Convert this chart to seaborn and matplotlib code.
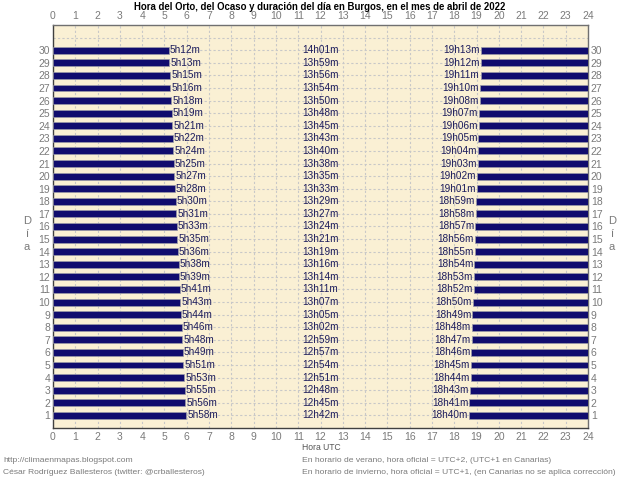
import matplotlib
matplotlib.use("Agg")
import matplotlib.pyplot as plt
import seaborn as sns
import pandas as pd

# day of April 2022, sunrise, day length and sunset (UTC)
days = list(range(1, 31))
sunrise = ["5h58m", "5h56m", "5h55m", "5h53m", "5h51m", "5h49m", "5h48m", "5h46m", "5h44m", "5h43m",
           "5h41m", "5h39m", "5h38m", "5h36m", "5h35m", "5h33m", "5h31m", "5h30m", "5h28m", "5h27m",
           "5h25m", "5h24m", "5h22m", "5h21m", "5h19m", "5h18m", "5h16m", "5h15m", "5h13m", "5h12m"]
duration = ["12h42m", "12h45m", "12h48m", "12h51m", "12h54m", "12h57m", "12h59m", "13h02m", "13h05m", "13h07m",
            "13h11m", "13h14m", "13h16m", "13h19m", "13h21m", "13h24m", "13h27m", "13h29m", "13h33m", "13h35m",
            "13h38m", "13h40m", "13h43m", "13h45m", "13h48m", "13h50m", "13h54m", "13h56m", "13h59m", "14h01m"]
sunset = ["18h40m", "18h41m", "18h43m", "18h44m", "18h45m", "18h46m", "18h47m", "18h48m", "18h49m", "18h50m",
          "18h52m", "18h53m", "18h54m", "18h55m", "18h56m", "18h57m", "18h58m", "18h59m", "19h01m", "19h02m",
          "19h03m", "19h04m", "19h05m", "19h06m", "19h07m", "19h08m", "19h10m", "19h11m", "19h12m", "19h13m"]
hours = list(range(0, 25))


def to_hours(s):
    h, m = s.rstrip("m").split("h")
    return int(h) + int(m) / 60.0


df = pd.DataFrame({"dia": days,
                   "orto": [to_hours(s) for s in sunrise],
                   "ocaso": [to_hours(s) for s in sunset]})
df["resto"] = 24 - df["ocaso"]

navy = "#100c6e"
gray = "#7a7a7a"
txtblue = "#1c1c5c"

sns.set_theme(style="whitegrid")
plt.rcParams["font.family"] = ["Liberation Sans", "DejaVu Sans"]

fig = plt.figure(figsize=(6.4, 4.79), dpi=100)
ax = fig.add_axes([53 / 640, 1 - 428 / 479, (588 - 53) / 640, (428 - 25) / 479])
ax.set_facecolor("#faf0d4")

# sunrise bars (from midnight) and sunset bars (to midnight)
sns.barplot(data=df, x="orto", y="dia", orient="y", native_scale=True, width=0.55,
            color=navy, saturation=1, edgecolor="#9a9aa8", linewidth=0.5, ax=ax, zorder=3)
ax.barh(df["dia"], df["resto"], left=df["ocaso"], height=0.55,
        color=navy, edgecolor="#9a9aa8", linewidth=0.5, zorder=3)

for d, r, du, s, rv, sv in zip(days, sunrise, duration, sunset, df["orto"], df["ocaso"]):
    ax.text(rv + 0.05, d, r, ha="left", va="center", fontsize=7.2, color=txtblue, zorder=4)
    ax.text(12, d, du, ha="center", va="center", fontsize=7.2, color=txtblue, zorder=4)
    ax.text(sv - 0.05, d, s, ha="right", va="center", fontsize=7.2, color=txtblue, zorder=4)

ax.set_xlim(0, 24)
ax.set_ylim(0, 32)
ax.set_xticks(hours)
ax.set_yticks(days)
ax.set_yticks([31], minor=True)
ax.set_xlabel("")
ax.set_ylabel("")
ax.grid(True, which="both", color="#c8c8c8", linestyle=(0, (2, 2)), linewidth=0.8, zorder=0)
ax.set_axisbelow(True)
ax.tick_params(axis="both", which="both", length=0, labelsize=7.5, labelcolor=gray)
ax.tick_params(axis="x", labeltop=True, pad=3)
ax.tick_params(axis="y", labelright=True, pad=2)
for side, sp in ax.spines.items():
    sp.set_visible(True)
    sp.set_linewidth(1.0)
    sp.set_color("#404040" if side in ("left", "bottom") else "#707070")

fig.text(0.5, 1 - 7 / 479, "Hora del Orto, del Ocaso y duración del día en Burgos, en el mes de abril de 2022",
         ha="center", va="center", fontsize=6.9, fontweight="bold", color="black")

for lbl, ypix in (("D", 221), ("í", 234), ("a", 247)):
    fig.text(27 / 640, 1 - ypix / 479, lbl, ha="center", va="center", fontsize=8, color=gray)
    fig.text(612 / 640, 1 - ypix / 479, lbl, ha="center", va="center", fontsize=8, color=gray)

fig.text(302 / 640, 1 - 447 / 479, "Hora UTC", ha="left", va="center", fontsize=6.2, color="#555555")
fig.text(302 / 640, 1 - 460 / 479, "En horario de verano, hora oficial = UTC+2, (UTC+1 en Canarias)",
         ha="left", va="center", fontsize=6.1, color=gray)
fig.text(302 / 640, 1 - 472 / 479, "En horario de invierno, hora oficial = UTC+1, (en Canarias no se aplica corrección)",
         ha="left", va="center", fontsize=6.1, color=gray)
fig.text(3 / 640, 1 - 460 / 479, "http://climaenmapas.blogspot.com",
         ha="left", va="center", fontsize=6.1, color=gray)
fig.text(3 / 640, 1 - 472 / 479, "César Rodríguez Ballesteros (twitter: @crballesteros)",
         ha="left", va="center", fontsize=6.1, color=gray)

fig.savefig("out.png", dpi=100, facecolor="white")
